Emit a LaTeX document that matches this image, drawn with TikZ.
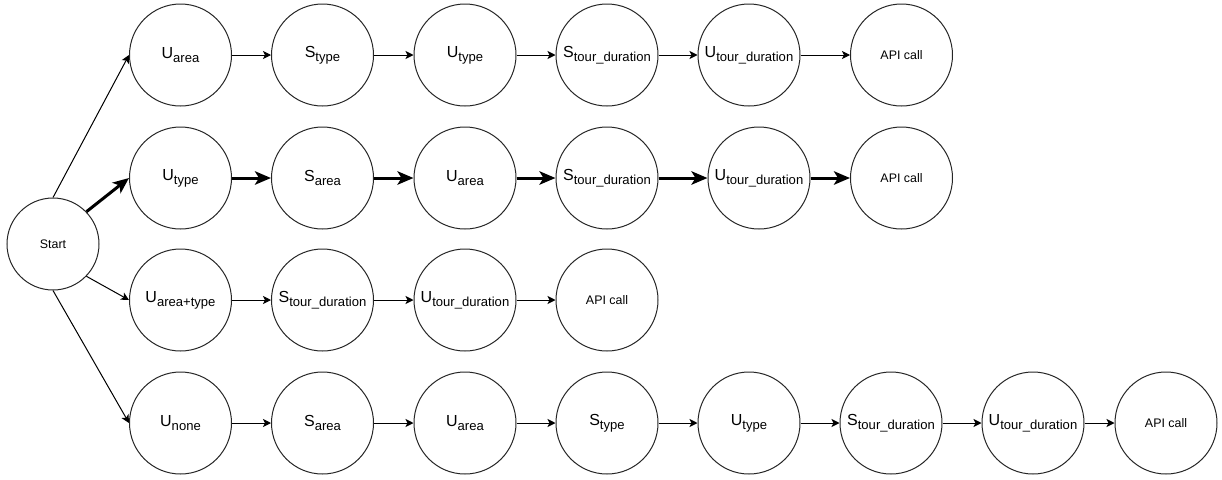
\documentclass[tikz,border=0pt]{standalone}
\usepackage{fontspec}
\setmainfont{Liberation Sans}
\usetikzlibrary{arrows.meta}
\newcommand{\low}[1]{\raisebox{-3pt}{\fontsize{9.8}{12}\selectfont #1}}
\tikzset{
  state/.style={circle, draw=black!85, line width=0.75pt, minimum size=76.5pt, inner sep=0pt, font=\fontsize{12}{14}\selectfont},
  smalltext/.style={font=\fontsize{9.3}{11}\selectfont},
  flow/.style={line width=0.75pt, -{Stealth[length=6pt,width=6pt,inset=1.5pt]}},
  boldflow/.style={line width=2.25pt, -{Stealth[length=12pt,width=10pt,inset=3pt]}},
}
\begin{document}
\begin{tikzpicture}[x=0.75pt, y=-0.75pt]
\useasboundingbox (0,0) rectangle (1222,479);
\node [state, smalltext, minimum size=69pt] (start) at (53,244) {Start};
% first row
\node [state] (a1) at (180.5,55) {U\low{area}};
\node [state] (a2) at (322.5,55) {S\low{type}};
\node [state] (a3) at (465,55) {U\low{type}};
\node [state] (a4) at (607,55) {S\low{tour\_duration}};
\node [state] (a5) at (749,55) {U\low{tour\_duration}};
\node [state, smalltext] (a6) at (901.5,55) {API call};
% second row
\node [state] (b1) at (180.5,178) {U\low{type}};
\node [state] (b2) at (322.5,178) {S\low{area}};
\node [state] (b3) at (465,178) {U\low{area}};
\node [state] (b4) at (607,178) {S\low{tour\_duration}};
\node [state] (b5) at (759,178) {U\low{tour\_duration}};
\node [state, smalltext] (b6) at (901.5,178) {API call};
% third row
\node [state] (c1) at (180.5,300) {U\low{area+type}};
\node [state] (c2) at (322.5,300) {S\low{tour\_duration}};
\node [state] (c3) at (465,300) {U\low{tour\_duration}};
\node [state, smalltext] (c4) at (607,300) {API call};
% fourth row
\node [state] (d1) at (180.5,423) {U\low{none}};
\node [state] (d2) at (322.5,423) {S\low{area}};
\node [state] (d3) at (465,423) {U\low{area}};
\node [state] (d4) at (607,423) {S\low{type}};
\node [state] (d5) at (749,423) {U\low{type}};
\node [state] (d6) at (891,423) {S\low{tour\_duration}};
\node [state] (d7) at (1033,423) {U\low{tour\_duration}};
\node [state, smalltext] (d8) at (1166,423) {API call};
% from start
\draw [flow] (start.north) -- (a1.west);
\draw [boldflow] (start.44) -- (b1.west);
\draw [flow] (start.-44) -- (c1.west);
\draw [flow] (start.south) -- (d1.west);
% along the rows
\draw [flow] (a1) -- (a2);
\draw [flow] (a2) -- (a3);
\draw [flow] (a3) -- (a4);
\draw [flow] (a4) -- (a5);
\draw [flow] (a5) -- (a6);
\draw [boldflow] (b1) -- (b2);
\draw [boldflow] (b2) -- (b3);
\draw [boldflow] (b3) -- (b4);
\draw [boldflow] (b4) -- (b5);
\draw [boldflow] (b5) -- (b6);
\draw [flow] (c1) -- (c2);
\draw [flow] (c2) -- (c3);
\draw [flow] (c3) -- (c4);
\draw [flow] (d1) -- (d2);
\draw [flow] (d2) -- (d3);
\draw [flow] (d3) -- (d4);
\draw [flow] (d4) -- (d5);
\draw [flow] (d5) -- (d6);
\draw [flow] (d6) -- (d7);
\draw [flow] (d7) -- (d8);
\end{tikzpicture}
\end{document}
